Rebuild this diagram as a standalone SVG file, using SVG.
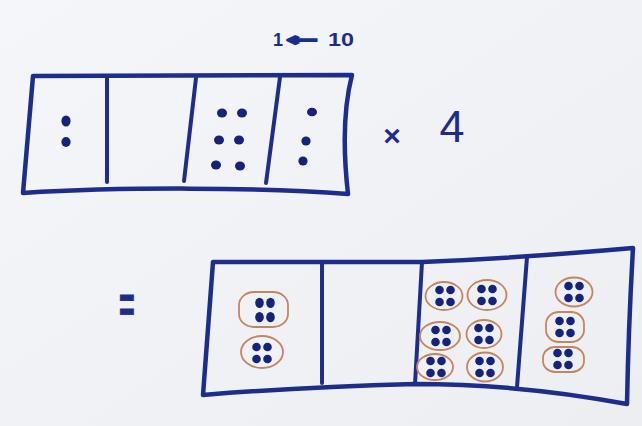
<svg xmlns="http://www.w3.org/2000/svg" xmlns:xlink="http://www.w3.org/1999/xlink" width="642" height="426" viewBox="0 0 642 426">
  <style>
    .ink { fill: none; stroke: #1c2d8c; stroke-width: 4.5; stroke-linecap: round; stroke-linejoin: round; }
    .div { fill: none; stroke: #1c2d8c; stroke-width: 4; stroke-linecap: round; }
    .dot { fill: #16237a; }
    .ring { fill: none; stroke: #c7845e; stroke-width: 1.8; }
    .txt { fill: #1c2d8c; font-family: "Liberation Sans", Arial, sans-serif; }
  </style>
  <defs>
    <linearGradient id="bg" x1="0" y1="0" x2="1" y2="1">
      <stop offset="0" stop-color="#f5f6f9"/>
      <stop offset="1" stop-color="#eceef2"/>
    </linearGradient>
    <g id="quad">
      <circle class="dot" cx="-5.5" cy="-6" r="4.3"/>
      <circle class="dot" cx="5.5" cy="-6" r="4.3"/>
      <circle class="dot" cx="-5.5" cy="6" r="4.3"/>
      <circle class="dot" cx="5.5" cy="6" r="4.3"/>
    </g>
  </defs>
  <rect width="642" height="426" fill="url(#bg)"/>

  <g id="label-1-10">
    <text class="txt" font-size="18" font-weight="bold" y="46"><tspan x="273">1</tspan> <tspan x="286" textLength="32" lengthAdjust="spacingAndGlyphs" font-family="DejaVu Sans, sans-serif" stroke="#1c2d8c" stroke-width="1.6">←</tspan> <tspan x="328" textLength="26" lengthAdjust="spacingAndGlyphs">10</tspan></text>
  </g>

  <g id="top-chart">
    <path class="ink" d="M33,76 L352,75 C343,110 343,150 348,194 C260,187 120,187 23,193 Z"/>
    <path class="div" d="M107,77 L107,182"/>
    <path class="div" d="M196,78 L184,181"/>
    <path class="div" d="M280,77 L266,183"/>
    <g id="top-col1">
      <ellipse class="dot" cx="66" cy="121" rx="4.6" ry="5.5"/>
      <ellipse class="dot" cx="66" cy="142" rx="4.6" ry="5"/>
    </g>
    <g id="top-col3">
      <ellipse class="dot" cx="222" cy="113" rx="5" ry="4.5"/>
      <ellipse class="dot" cx="242" cy="113" rx="5" ry="4.5"/>
      <ellipse class="dot" cx="219" cy="140" rx="5" ry="4.5"/>
      <ellipse class="dot" cx="239" cy="140" rx="5" ry="4.5"/>
      <ellipse class="dot" cx="216" cy="165" rx="5" ry="4.5"/>
      <ellipse class="dot" cx="240" cy="166" rx="5" ry="4.5"/>
    </g>
    <g id="top-col4">
      <ellipse class="dot" cx="312" cy="112" rx="5" ry="4.3"/>
      <ellipse class="dot" cx="306" cy="141" rx="4.6" ry="4.6"/>
      <ellipse class="dot" cx="303" cy="161" rx="4.6" ry="4.6"/>
    </g>
  </g>

  <g id="times-4">
    <text class="txt" font-size="30" font-weight="bold" x="392" y="146" text-anchor="middle">×</text>
    <text class="txt" font-size="45" x="452" y="142" text-anchor="middle">4</text>
  </g>

  <g id="equals">
    <text class="txt" font-size="36" font-weight="bold" text-anchor="middle" stroke="#1c2d8c" stroke-width="0.6" transform="translate(127,322) scale(0.75,1.45)">=</text>
  </g>

  <g id="bottom-chart">
    <path class="ink" d="M213,262 L422,262 Q520,258 633,248 C630,300 628,350 627,404 Q520,384 415,384 Q300,387 203,395 Z"/>
    <path class="div" d="M322,263 L322,383"/>
    <path class="div" d="M422,262 L415,384"/>
    <path class="div" d="M527,257 L517,387"/>

    <g id="bottom-col1">
      <rect class="ring" x="239" y="292" width="49" height="35" rx="15" ry="13"/>
      <g transform="translate(265,310) scale(1,1.2)"><use xlink:href="#quad"/></g>
      <ellipse class="ring" cx="262" cy="352" rx="21" ry="16"/>
      <use xlink:href="#quad" x="262" y="353"/>
    </g>

    <g id="bottom-col3">
      <ellipse class="ring" cx="444" cy="296" rx="18.5" ry="14"/>
      <use xlink:href="#quad" x="445" y="296"/>
      <ellipse class="ring" cx="487" cy="295" rx="19.5" ry="15"/>
      <use xlink:href="#quad" x="487" y="295"/>
      <ellipse class="ring" cx="440" cy="336" rx="20" ry="14"/>
      <use xlink:href="#quad" x="441" y="336"/>
      <ellipse class="ring" cx="484" cy="334" rx="17.5" ry="14"/>
      <use xlink:href="#quad" x="484" y="334"/>
      <ellipse class="ring" cx="435" cy="367" rx="18" ry="13"/>
      <use xlink:href="#quad" x="436" y="367"/>
      <ellipse class="ring" cx="485" cy="367" rx="18" ry="14.5"/>
      <use xlink:href="#quad" x="485" y="367"/>
    </g>

    <g id="bottom-col4">
      <ellipse class="ring" cx="574" cy="292" rx="18.5" ry="14.5"/>
      <use xlink:href="#quad" x="574" y="292"/>
      <rect class="ring" x="546" y="312" width="38" height="30" rx="13" ry="12"/>
      <use xlink:href="#quad" x="565" y="327"/>
      <rect class="ring" x="543" y="347" width="41" height="25" rx="12" ry="11"/>
      <use xlink:href="#quad" x="563" y="359"/>
    </g>
  </g>
</svg>
